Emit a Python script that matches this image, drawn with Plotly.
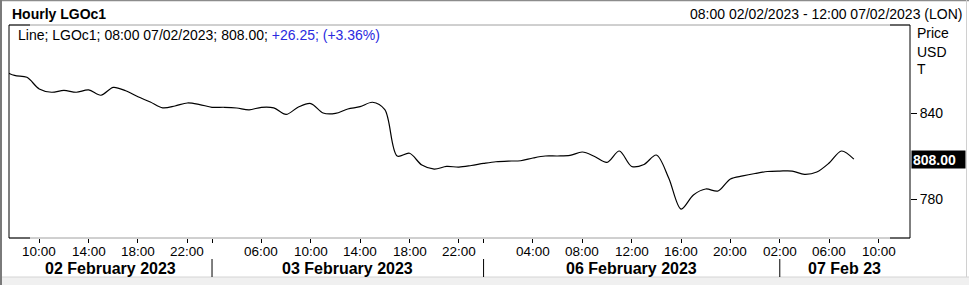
import plotly.graph_objects as go

# ---------------- data ----------------
sessions = [
    ("2023-02-02", list(range(7, 23))),
    ("2023-02-03", list(range(1, 23))),
    ("2023-02-05", [23]),
    ("2023-02-06", list(range(0, 23))),
    ("2023-02-07", list(range(1, 13))),
]
bar_times = [f"{d} {h:02d}:00" for d, hs in sessions for h in hs]

prices_feb02 = [870.2, 866.4, 865.1, 857.0, 854.7, 856.0, 854.7, 856.3, 852.6, 858.1,
                855.7, 851.5, 847.9, 843.8, 845.1, 847.2]
prices_feb03 = [846.1, 844.2, 844.2, 843.7, 842.4, 844.2, 843.8, 839.2, 844.4, 846.8,
                840.2, 839.9, 843.0, 844.6, 847.7, 842.5, 810.2, 812.1, 803.9, 801.1,
                802.9, 802.5]
prices_feb05 = [803.6]
prices_feb06 = [805.0, 806.2, 806.7, 806.9, 808.8, 810.2, 810.2, 810.6, 813.0, 809.9,
                805.8, 813.7, 802.9, 804.3, 810.9, 794.9, 773.2, 783.0, 787.2, 785.8,
                794.2, 796.3, 798.0]
prices_feb07 = [799.4, 799.7, 799.7, 797.4, 799.0, 805.3, 813.7, 808.00]
prices = prices_feb02 + prices_feb03 + prices_feb05 + prices_feb06 + prices_feb07

hour_ticks = ["2023-02-02 10:00", "2023-02-02 14:00", "2023-02-02 18:00", "2023-02-02 22:00",
              "2023-02-03 06:00", "2023-02-03 10:00", "2023-02-03 14:00", "2023-02-03 18:00",
              "2023-02-03 22:00",
              "2023-02-06 04:00", "2023-02-06 08:00", "2023-02-06 12:00", "2023-02-06 16:00",
              "2023-02-06 20:00",
              "2023-02-07 02:00", "2023-02-07 06:00", "2023-02-07 10:00"]
day_breaks = ["2023-02-03 02:00", "2023-02-06 00:00", "2023-02-07 02:00"]
day_labels = ["02 February 2023", "03 February 2023", "06 February 2023", "07 Feb 23"]
range_start, range_end = "2023-02-02 08:00", "2023-02-07 12:00"
y_ticks = [780, 840]
last_price = 808.00

# ---------------- layout helpers ----------------
FW, FH = 969, 285
L, R, T, B = 9, 910, 25, 238
PW, PH = R - L, B - T
def px(x):
    return (x - L) / PW
def py(y):
    return (B - y) / PH

FONT = "Liberation Sans, Arial, sans-serif"
idx = {t: i for i, t in enumerate(bar_times)}
x_vals = list(range(len(prices)))
x0 = idx[range_start] - 0.45
x1 = idx[range_end] + 0.55

tickvals = [idx[t] for t in hour_ticks] + [idx[t] for t in day_breaks if t not in hour_ticks]

fig = go.Figure()
fig.add_trace(go.Scatter(x=x_vals, y=prices, mode="lines",
                         line=dict(color="black", width=1.2, shape="spline", smoothing=0.9),
                         hoverinfo="skip", showlegend=False))

shapes = []
# plot frame
shapes.append(dict(type="line", xref="paper", yref="paper", x0=0, x1=1, y0=1, y1=1,
                   line=dict(color="#a0a0a0", width=1)))
shapes.append(dict(type="line", xref="paper", yref="paper", x0=0, x1=1, y0=0, y1=0,
                   line=dict(color="#a0a0a0", width=1)))
for yy in (0, 1):
    shapes.append(dict(type="line", xref="paper", yref="paper", x0=0, x1=px(30), y0=yy, y1=yy,
                       line=dict(color="black", width=1)))
    shapes.append(dict(type="line", xref="paper", yref="paper", x0=px(890), x1=1, y0=yy, y1=yy,
                       line=dict(color="black", width=1)))
shapes.append(dict(type="line", xref="paper", yref="paper", x0=0, x1=0, y0=0, y1=1,
                   line=dict(color="black", width=1)))
shapes.append(dict(type="line", xref="paper", yref="paper", x0=1, x1=1, y0=0, y1=1,
                   line=dict(color="black", width=1)))
# outer window border
shapes.append(dict(type="line", xref="paper", yref="paper", x0=px(0), x1=px(FW), y0=py(0.5), y1=py(0.5),
                   line=dict(color="#8c8c8c", width=1.5)))
shapes.append(dict(type="line", xref="paper", yref="paper", x0=px(1), x1=px(1), y0=py(0), y1=py(FH),
                   line=dict(color="#7a7a7a", width=2)))
shapes.append(dict(type="line", xref="paper", yref="paper", x0=px(966.5), x1=px(966.5), y0=py(0), y1=py(277),
                   line=dict(color="#d0d0d0", width=1)))
shapes.append(dict(type="rect", xref="paper", yref="paper", x0=px(2), x1=px(FW), y0=py(277), y1=py(FH),
                   fillcolor="#f0f0f0", line=dict(width=0), layer="below"))
shapes.append(dict(type="line", xref="paper", yref="paper", x0=px(2), x1=px(FW), y0=py(277), y1=py(277),
                   line=dict(color="#d4d4d4", width=1)))
# day separators
for t in day_breaks:
    shapes.append(dict(type="line", xref="x", yref="paper", x0=idx[t], x1=idx[t],
                       y0=py(259), y1=py(277), line=dict(color="black", width=1)))

annotations = []
annotations.append(dict(xref="paper", yref="paper", x=px(10), y=py(14), xanchor="left", yanchor="middle",
                        text="<b>Hourly LGOc1</b>", showarrow=False,
                        font=dict(family=FONT, size=14, color="black")))
annotations.append(dict(xref="paper", yref="paper", x=px(964), y=py(14), xanchor="right", yanchor="middle",
                        text=f"{range_start[11:]} 02/02/2023 - {range_end[11:]} 07/02/2023 (LON)",
                        showarrow=False, font=dict(family=FONT, size=14, color="black")))
annotations.append(dict(xref="paper", yref="paper", x=px(16), y=py(35), xanchor="left", yanchor="middle",
                        text=f"Line; LGOc1; 08:00 07/02/2023; {last_price:.2f}; "
                             "<span style='color:#2a2ae0'>+26.25; (+3.36%)</span>",
                        showarrow=False, font=dict(family=FONT, size=14, color="black")))
for txt, yy in (("Price", 33), ("USD", 52), ("T", 69)):
    annotations.append(dict(xref="paper", yref="paper", x=px(915), y=py(yy), xanchor="left",
                            yanchor="middle", text=txt, showarrow=False,
                            font=dict(family=FONT, size=14, color="black")))
annotations.append(dict(xref="paper", yref="y", x=px(911), y=last_price, xanchor="left", yanchor="middle",
                        text=f"<b>{last_price:.2f}</b>", showarrow=False, bgcolor="black",
                        width=51, height=15, align="left", borderpad=1,
                        font=dict(family=FONT, size=14, color="white")))
# hour labels
for t in hour_ticks:
    annotations.append(dict(xref="x", yref="paper", x=idx[t], y=py(251.5), xanchor="center",
                            yanchor="middle", text=t[-5:], showarrow=False, borderpad=0,
                            font=dict(family=FONT, size=13.5, color="black")))
bounds = [x0] + [idx[t] for t in day_breaks] + [x1]
for i, lab in enumerate(day_labels):
    annotations.append(dict(xref="x", yref="paper", x=(bounds[i] + bounds[i + 1]) / 2, y=py(268.5),
                            xanchor="center", yanchor="middle", text=f"<b>{lab}</b>", showarrow=False,
                            borderpad=0, font=dict(family=FONT, size=16, color="black")))

fig.update_layout(
    width=FW, height=FH,
    margin=dict(l=L, r=FW - R, t=T, b=FH - B, pad=0),
    paper_bgcolor="white", plot_bgcolor="white",
    font=dict(family=FONT, size=14, color="black"),
    shapes=shapes, annotations=annotations,
    xaxis=dict(range=[x0, x1], showgrid=False, zeroline=False, showline=False,
               tickmode="array", tickvals=tickvals, ticktext=["" for _ in tickvals],
               ticks="outside", ticklen=4, tickcolor="black", tickwidth=1),
    yaxis=dict(range=[753.0, 901.6], side="right", showgrid=False, zeroline=False, showline=False,
               tickmode="array", tickvals=y_ticks, ticktext=[str(v) for v in y_ticks],
               ticks="outside", ticklen=6, tickcolor="black", tickwidth=1,
               tickfont=dict(family=FONT, size=14, color="black")),
)

fig.write_html("out.html")
